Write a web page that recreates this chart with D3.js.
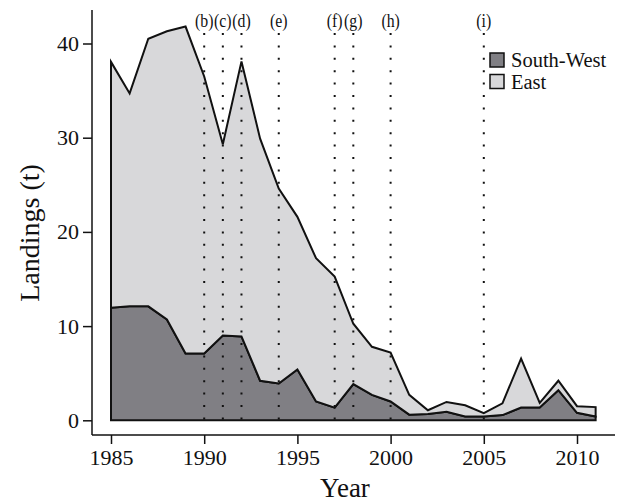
<!DOCTYPE html>
<html>
<head>
<meta charset="utf-8">
<script src="https://cdn.jsdelivr.net/npm/d3@7"></script>
<style>
  body { margin: 0; background: #fff; }
  svg { display: block; font-family: "Liberation Serif", "Times New Roman", serif; }
</style>
</head>
<body>
<svg id="chart"></svg>
<script>
// landings by region, stacked
var years = d3.range(1985, 2012);
var southWest = [11.95, 12.1, 12.1, 10.7, 7.1, 7.1, 9.0, 8.9, 4.2, 3.9,
                 5.4, 2.0, 1.35, 3.85, 2.7, 2.0, 0.6, 0.67, 0.9, 0.4,
                 0.4, 0.55, 1.35, 1.35, 3.2, 0.8, 0.4];
var east = [26.1, 22.6, 28.4, 30.6, 34.7, 29.4, 20.3, 29.2, 25.7, 20.7,
            16.2, 15.2, 13.9, 6.4, 5.1, 5.2, 2.1, 0.4, 1.05, 1.2,
            0.35, 1.25, 5.2, 0.5, 1.0, 0.7, 1.0];
var regions = ["South-West", "East"];
var events = [1990, 1991, 1992, 1994, 1997, 1998, 2000, 2005];
var eventLabels = ["(b)", "(c)", "(d)", "(e)", "(f)", "(g)", "(h)", "(i)"];
var xTicks = [1985, 1990, 1995, 2000, 2005, 2010];
var yTicks = [0, 10, 20, 30, 40];

var W = 619, H = 503;
const svg = d3.select("#chart").attr("width", W).attr("height", H);

const color = d3.scaleOrdinal(regions, ["#807f84", "#d8d8da"]);

var x = d3.scaleLinear().domain([1985, 2010]).range([111, 577]);
var y = d3.scaleLinear().domain([0, 40]).range([420.3, 43.5]);

var table = years.map((yr, i) => ({year: yr, "South-West": southWest[i], "East": east[i]}));
var series = d3.stack().keys(regions)(table);

var area = d3.area()
  .x(d => x(d.data.year))
  .y0(d => y(d[0]))
  .y1(d => y(d[1]));

svg.selectAll("path.layer")
  .data(series)
  .enter().append("path")
  .attr("class", "layer")
  .attr("d", area)
  .attr("fill", d => color(d.key))
  .attr("stroke", "#111")
  .attr("stroke-width", 2)
  .attr("stroke-linejoin", "miter");

// event lines
svg.selectAll("line.ev")
  .data(events)
  .enter().append("line")
  .attr("class", "ev")
  .attr("x1", d => x(d)).attr("x2", d => x(d))
  .attr("y1", 33).attr("y2", 420)
  .attr("stroke", "#111")
  .attr("stroke-width", 2)
  .attr("stroke-dasharray", "2,10.4");

// event labels, a bit taller than wide so neighbours 1 yr apart just touch
svg.selectAll("text.ev")
  .data(events)
  .enter().append("text")
  .attr("class", "ev")
  .attr("transform", d => "translate(" + x(d) + ",27) scale(1,1.15)")
  .attr("text-anchor", "middle")
  .attr("font-size", 15.8)
  .attr("fill", "#111")
  .text((d, i) => eventLabels[i]);

// axes
var xAxis = svg.append("g").attr("transform", "translate(0,435)")
  .call(d3.axisBottom(x).tickValues(xTicks).tickFormat(d3.format("d")).tickSize(9).tickSizeOuter(0));
xAxis.select(".domain").attr("d", "M92,0H615");

var yAxis = svg.append("g").attr("transform", "translate(92,0)")
  .call(d3.axisLeft(y).tickValues(yTicks).tickSize(9).tickSizeOuter(0));
yAxis.select(".domain").attr("d", "M0,10V435");

svg.selectAll(".tick text")
  .attr("font-family", "Liberation Serif")
  .attr("font-size", 22)
  .attr("fill", "#111");
xAxis.selectAll(".tick text").attr("dy", "0.92em").attr("y", 10);
yAxis.selectAll(".tick text").attr("x", -13);
svg.selectAll(".domain, .tick line").attr("stroke", "#111").attr("stroke-width", 1.5);

svg.append("text")
  .attr("x", 345).attr("y", 497)
  .attr("text-anchor", "middle")
  .attr("font-size", 27)
  .attr("fill", "#111")
  .text("Year");

svg.append("text")
  .attr("transform", "translate(39,233) rotate(-90)")
  .attr("text-anchor", "middle")
  .attr("font-size", 28)
  .attr("fill", "#111")
  .text("Landings (t)");

// legend
var legend = svg.selectAll("g.leg")
  .data(regions)
  .enter().append("g")
  .attr("class", "leg")
  .attr("transform", (d, i) => "translate(490," + (53 + i * 21.5) + ")");

legend.append("rect")
  .attr("width", 14).attr("height", 14)
  .attr("fill", d => color(d))
  .attr("stroke", "#111")
  .attr("stroke-width", 1.5);

legend.append("text")
  .attr("x", 21).attr("y", 14)
  .attr("font-size", 20.5)
  .attr("fill", "#111")
  .text(d => d);
</script>
</body>
</html>
